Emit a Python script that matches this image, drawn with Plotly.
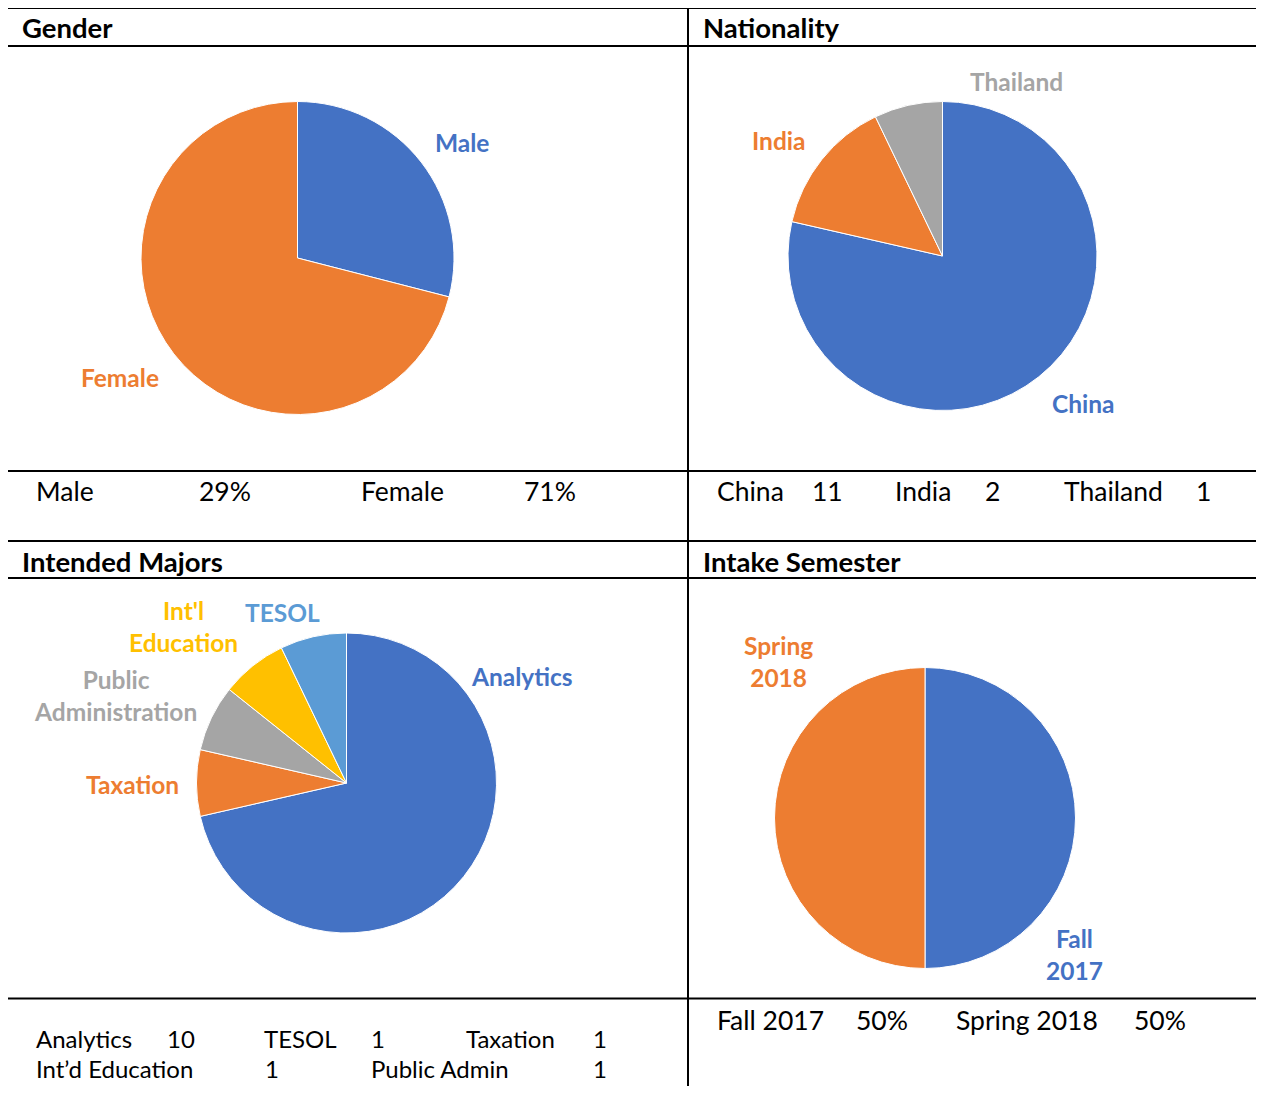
import plotly.graph_objects as go

# ---------------- data ----------------
gender_labels = ["Male", "Female"]
gender_values = [29, 71]
gender_pct_text = ["29%", "71%"]

nat_labels = ["China", "India", "Thailand"]
nat_values = [11, 2, 1]

major_labels = ["Analytics", "Taxation", "Public<br>Administration", "Int'l<br>Education", "TESOL"]
major_values = [10, 1, 1, 1, 1]
major_footer_row1 = ["Analytics", "TESOL", "Taxation"]
major_footer_row1_vals = [10, 1, 1]
major_footer_row2 = ["Int\u2019d Education", "Public Admin"]
major_footer_row2_vals = [1, 1]

intake_labels = ["Fall<br>2017", "Spring<br>2018"]
intake_values = [50, 50]
intake_footer = ["Fall 2017", "Spring 2018"]
intake_pct_text = ["50%", "50%"]

titles = ["Gender", "Nationality", "Intended Majors", "Intake Semester"]

# ---------------- styles ----------------
BLUE = "#4472C4"
ORANGE = "#ED7D31"
GRAY = "#A5A5A5"
GOLD = "#FFC000"
LBLUE = "#5B9BD5"

gender_colors = [BLUE, ORANGE]
nat_colors = [BLUE, ORANGE, GRAY]
major_colors = [BLUE, ORANGE, GRAY, GOLD, LBLUE]
intake_colors = [BLUE, ORANGE]

FONT = "Lato, Calibri, Carlito, sans-serif"

W, H = 1256, 1078
OFF = 8  # default body margin of the page


def fx(x):
    return (x - OFF) / W


def fy(y):
    return 1 - (y - OFF) / H


fig = go.Figure()


def add_pie(labels, values, colors, cx, cy, r):
    fig.add_trace(go.Pie(
        labels=labels, values=values, sort=False, direction="clockwise",
        rotation=0, textinfo="none", hoverinfo="label+value",
        marker=dict(colors=colors, line=dict(color="white", width=1)),
        domain=dict(x=[fx(cx - r), fx(cx + r)], y=[fy(cy + r), fy(cy - r)]),
        showlegend=False,
    ))


add_pie(gender_labels, gender_values, gender_colors, 297.5, 258, 156.5)
add_pie(nat_labels, nat_values, nat_colors, 942.5, 256, 154.5)
add_pie(major_labels, major_values, major_colors, 346.5, 783, 150)
add_pie(intake_labels, intake_values, intake_colors, 925, 818, 150.5)

annotations = []


def txt(text, x, y, size, color="black", bold=False, anchor="left"):
    annotations.append(dict(
        text=f"<b>{text}</b>" if bold else text, x=fx(x), y=fy(y),
        xref="paper", yref="paper", xanchor=anchor, yanchor="middle",
        showarrow=False, align="center",
        font=dict(family=FONT, size=size, color=color),
    ))


# titles
TS = 27.5
txt(titles[0], 20, 28, TS, bold=True)
txt(titles[1], 701, 28, TS, bold=True)
txt(titles[2], 20, 561, TS, bold=True)
txt(titles[3], 701, 561, TS, bold=True)

# pie labels
LS = 24.5
txt(gender_labels[0], 462, 142, LS, gender_colors[0], True, "center")
txt(gender_labels[1], 120, 377, LS, gender_colors[1], True, "center")

txt(nat_labels[0], 1083, 403, LS, nat_colors[0], True, "center")
txt(nat_labels[1], 779, 141, LS, nat_colors[1], True, "center")
txt(nat_labels[2], 1016, 81, LS, nat_colors[2], True, "center")

txt(major_labels[0], 522, 676, LS, major_colors[0], True, "center")
txt(major_labels[1], 132, 784, LS, major_colors[1], True, "center")
txt(major_labels[2], 115, 695, LS, major_colors[2], True, "center")
txt(major_labels[3], 183, 626, LS, major_colors[3], True, "center")
txt(major_labels[4], 282, 612, LS, major_colors[4], True, "center")

txt(intake_labels[0], 1074, 954, LS, intake_colors[0], True, "center")
txt(intake_labels[1], 779, 661, LS, intake_colors[1], True, "center")

# footer rows
FS = 26.5
txt(gender_labels[0], 34, 491, FS)
txt(gender_pct_text[0], 197, 491, FS)
txt(gender_labels[1], 359, 491, FS)
txt(gender_pct_text[1], 522, 491, FS)

nat_x = [(715, 810), (893, 983), (1062, 1194)]
for (lx, vx), lab, val in zip(nat_x, nat_labels, nat_values):
    txt(lab, lx, 491, FS)
    txt(str(val), vx, 491, FS)

MS = 24
row1_x = [(34, 165), (262, 369), (464, 591)]
for (lx, vx), lab, val in zip(row1_x, major_footer_row1, major_footer_row1_vals):
    txt(lab, lx, 1038, MS)
    txt(str(val), vx, 1038, MS)
row2_x = [(34, 263), (369, 591)]
for (lx, vx), lab, val in zip(row2_x, major_footer_row2, major_footer_row2_vals):
    txt(lab, lx, 1068, MS)
    txt(str(val), vx, 1068, MS)

int_x = [(715, 854), (954, 1132)]
for (lx, vx), lab, val in zip(int_x, intake_footer, intake_pct_text):
    txt(lab, lx, 1020, FS)
    txt(val, vx, 1020, FS)

# table lines
shapes = []


def hline(y, x0, x1, w=2):
    shapes.append(dict(type="line", xref="paper", yref="paper",
                       x0=fx(x0), x1=fx(x1), y0=fy(y), y1=fy(y),
                       line=dict(color="black", width=w)))


def vline(x, y0, y1, w=2):
    shapes.append(dict(type="line", xref="paper", yref="paper",
                       x0=fx(x), x1=fx(x), y0=fy(y0), y1=fy(y1),
                       line=dict(color="black", width=w)))


hline(8, 6, 1270)
for y in (46, 471, 541, 578, 998.5):
    hline(y, 6, 1270)
vline(7, 7, 1100)
vline(688, 7, 1100)

fig.update_layout(
    width=W, height=H,
    margin=dict(l=0, r=0, t=0, b=0),
    paper_bgcolor="white", plot_bgcolor="white",
    annotations=annotations, shapes=shapes,
    showlegend=False,
)

fig.write_html("out.html")
